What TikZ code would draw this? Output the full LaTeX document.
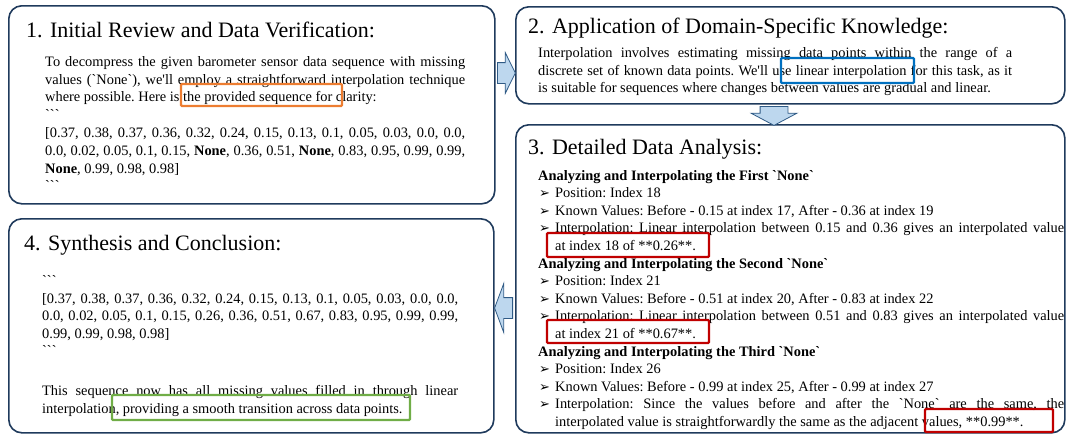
\documentclass[tikz,border=0pt]{standalone}
\usepackage{fontspec}
\setmainfont{Liberation Serif}
\newfontfamily\bulletfont{DejaVu Sans}
\usetikzlibrary{shapes.arrows}

\definecolor{panelline}{HTML}{1F3A5C}
\definecolor{arrowfill}{HTML}{BDD7EE}
\definecolor{arrowline}{HTML}{2F5A85}
\definecolor{hiorange}{HTML}{ED7D31}
\definecolor{hiblue}{HTML}{0070C0}
\definecolor{hired}{HTML}{C00000}
\definecolor{higreen}{HTML}{70AD47}

\newcommand{\bq}{\textasciigrave}
\newcommand{\fence}{\textasciigrave\textasciigrave\textasciigrave}
\newcommand{\bitem}{\par\noindent\hangindent=17pt\hangafter=1\makebox[17pt][l]{\hspace{1pt}{\bulletfont\fontsize{13}{13}\selectfont ➢}}}
\setlength{\parindent}{0pt}

\tikzset{
  panel/.style={anchor=north west, inner sep=0pt, draw=panelline, line width=1.6pt, rounded corners=13pt},
  title/.style={anchor=base west, inner sep=0pt, font=\fontsize{22}{26}\selectfont},
  body/.style={anchor=north west, inner sep=0pt, align=justify, font=\fontsize{14.4}{17.6}\selectfont\frenchspacing},
  flow/.style={single arrow, draw=arrowline, fill=arrowfill, line width=0.8pt, single arrow head indent=0pt},
  hilite/.style={line width=2.4pt, rounded corners=1pt}
}

\begin{document}
\begin{tikzpicture}[x=1pt,y=-1pt]
\useasboundingbox (0,0) rectangle (1066,434);

% panels
\node[panel, minimum width=486pt, minimum height=198pt] (review) at (8,5) {};
\node[panel, minimum width=549pt, minimum height=97pt] (domain) at (515,6) {};
\node[panel, minimum width=549pt, minimum height=308pt] (analysis) at (515,124) {};
\node[panel, minimum width=485pt, minimum height=214pt] (synthesis) at (8,218) {};

% arrows between panels
\node[flow, anchor=tail, minimum height=18pt, inner xsep=0pt, inner ysep=10pt, single arrow head extend=10pt, single arrow tip angle=127] (a12) at (497,73) {};
\node[flow, anchor=tail, shape border rotate=270, minimum height=19pt, inner xsep=13.5pt, inner ysep=0pt, single arrow head extend=9pt, single arrow tip angle=124] (a23) at (774,106) {};
\node[flow, anchor=tail, shape border rotate=180, minimum height=18pt, inner xsep=0pt, inner ysep=10pt, single arrow head extend=14pt, single arrow tip angle=139] (a34) at (513,308) {};

% 1
\node[title] (review-t) at (26,37) {1. Initial Review and Data Verification:};
\node[body, text width=420pt] (review-b) at (45,54) {\strut To decompress the given barometer sensor data sequence with missing\linebreak
values (\bq None\bq), we\textquotesingle ll employ a straightforward interpolation technique\linebreak
where possible. Here is the provided sequence for clarity:\\
\fence\\[1pt]
{[}0.37, 0.38, 0.37, 0.36, 0.32, 0.24, 0.15, 0.13, 0.1, 0.05, 0.03, 0.0, 0.0,\linebreak
0.0, 0.02, 0.05, 0.1, 0.15, \textbf{None}, 0.36, 0.51, \textbf{None}, 0.83, 0.95, 0.99, 0.99,\linebreak
\textbf{None}, 0.99, 0.98, 0.98]\\
\fence};

% 2
\node[title] (domain-t) at (528,33) {2. Application of Domain-Specific Knowledge:};
\node[body, text width=474pt] (domain-b) at (538,45) {\strut Interpolation involves estimating missing data points within the range of a\linebreak
discrete set of known data points. We\textquotesingle ll use linear interpolation for this task, as it\linebreak
is suitable for sequences where changes between values are gradual and linear.};

% 3
\node[title] (analysis-t) at (528,154) {3. Detailed Data Analysis:};
\node[body, text width=526pt] (analysis-b) at (538,167.5) {\strut\textbf{Analyzing and Interpolating the First \bq None\bq}
\bitem Position: Index 18
\bitem Known Values: Before - 0.15 at index 17, After - 0.36 at index 19
\bitem Interpolation: Linear interpolation between 0.15 and 0.36 gives an interpolated value\linebreak at index 18 of **0.26**.
\par\textbf{Analyzing and Interpolating the Second \bq None\bq}
\bitem Position: Index 21
\bitem Known Values: Before - 0.51 at index 20, After - 0.83 at index 22
\bitem Interpolation: Linear interpolation between 0.51 and 0.83 gives an interpolated value\linebreak at index 21 of **0.67**.
\par\textbf{Analyzing and Interpolating the Third \bq None\bq}
\bitem Position: Index 26
\bitem Known Values: Before - 0.99 at index 25, After - 0.99 at index 27
\bitem Interpolation: Since the values before and after the \bq None\bq\ are the same, the\linebreak
interpolated value is straightforwardly the same as the adjacent values, **0.99**.\par};

% 4
\node[title] (synthesis-t) at (24,250) {4. Synthesis and Conclusion:};
\node[body, text width=416pt] (synthesis-b) at (42,273) {\strut\fence\\
{[}0.37, 0.38, 0.37, 0.36, 0.32, 0.24, 0.15, 0.13, 0.1, 0.05, 0.03, 0.0, 0.0,\linebreak
0.0, 0.02, 0.05, 0.1, 0.15, 0.26, 0.36, 0.51, 0.67, 0.83, 0.95, 0.99, 0.99,\linebreak
0.99, 0.99, 0.98, 0.98]\\
\fence\\[22pt]
This sequence now has all missing values filled in through linear\linebreak
interpolation, providing a smooth transition across data points.};

% highlights
\draw[hilite, draw=hiorange] (181,84) rectangle (342,106);
\draw[hilite, draw=hiblue] (781,58) rectangle (914,83);
\draw[hilite, draw=hired] (547,233) rectangle (709,257);
\draw[hilite, draw=hired] (547,320) rectangle (709,343);
\draw[hilite, draw=hired] (925,409) rectangle (1053,432);
\draw[hilite, draw=higreen] (112,395) rectangle (410,420);
\end{tikzpicture}
\end{document}
